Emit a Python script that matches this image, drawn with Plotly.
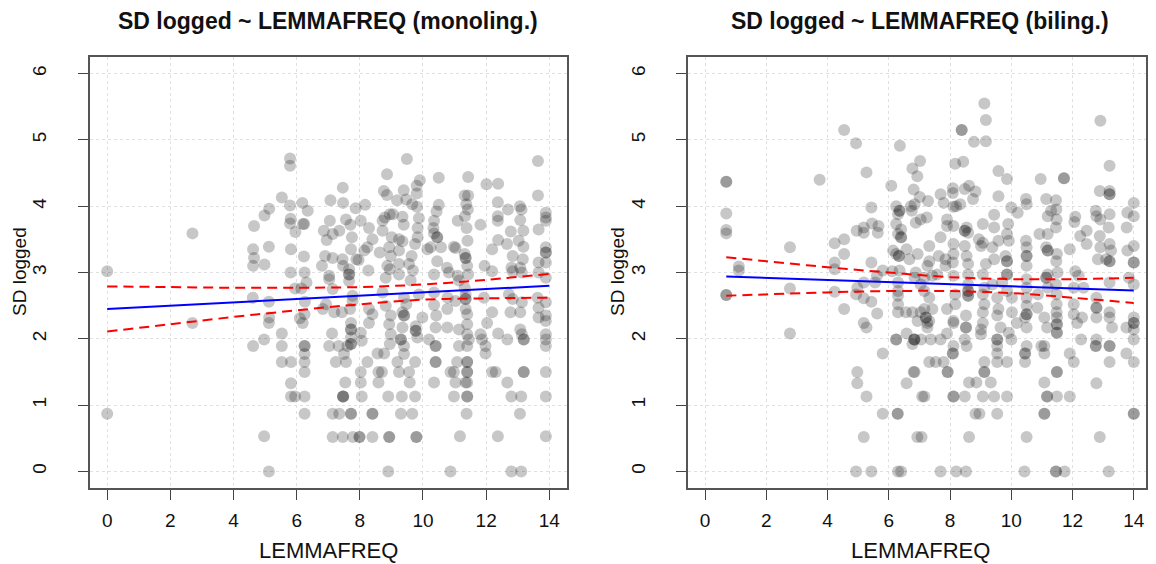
import plotly.graph_objects as go

# ---- data: (LEMMAFREQ, SD logged) ----
mono_pts = [
    (0.0, 3.02), (0.0, 0.87), (2.7, 3.59), (2.7, 2.24),
    (4.62, 3.35), (4.65, 3.22), (4.62, 3.10), (4.65, 3.70), (4.98, 3.86), (5.13, 3.96), (5.12, 3.39), (4.98, 3.12),
    (5.53, 4.13), (5.79, 4.72), (5.79, 4.61), (5.79, 4.01), (5.81, 3.81), (5.79, 3.74), (5.96, 3.61), (5.82, 3.35),
    (5.81, 3.00), (6.18, 4.05), (6.35, 3.93), (6.20, 3.73), (6.24, 3.73), (6.23, 3.24), (6.25, 3.00), (6.31, 2.85),
    (5.95, 2.76), (6.15, 2.76), (4.61, 2.62), (5.12, 2.56), (5.13, 2.32), (6.26, 2.56), (6.25, 2.37), (6.10, 2.31),
    (6.83, 2.45),
    (4.97, 0.53), (5.12, 0.0), (4.62, 1.89), (4.97, 1.99), (5.12, 2.24), (5.53, 2.08), (5.53, 1.89), (5.53, 1.65),
    (5.82, 1.65), (5.82, 1.33), (5.82, 1.13), (5.95, 1.13), (6.25, 1.13), (6.25, 0.87), (6.25, 1.50), (6.25, 1.65),
    (6.25, 1.77), (6.25, 1.89), (6.25, 1.89), (6.19, 2.24), (7.03, 1.89),
    (9.49, 4.71), (8.86, 4.48), (10.50, 4.43), (11.43, 4.44), (13.64, 4.68), (7.46, 4.28), (8.76, 4.23), (8.86, 4.17),
    (9.39, 4.24), (9.80, 4.31), (9.90, 4.39), (9.80, 4.19), (12.01, 4.33), (12.38, 4.34), (11.32, 4.16), (11.43, 4.16),
    (13.64, 4.16), (7.07, 4.09), (7.47, 4.05), (7.87, 3.97), (8.17, 4.02), (9.18, 4.09), (9.47, 4.10), (9.66, 4.03),
    (9.81, 3.99), (10.43, 3.92), (10.50, 4.02), (11.37, 4.03), (11.42, 3.95), (12.37, 4.06), (12.69, 3.95), (13.07, 4.00),
    (13.12, 3.95), (13.89, 3.90), (13.89, 3.83), (13.89, 3.78), (13.66, 3.65), (7.05, 3.78), (7.56, 3.80), (7.70, 3.72),
    (8.03, 3.78), (8.72, 3.78), (8.79, 3.83), (8.95, 3.88), (9.05, 3.88), (9.35, 3.84), (9.39, 3.72), (9.87, 3.82),
    (9.83, 3.67), (10.35, 3.78), (10.33, 3.67), (11.10, 3.78), (11.33, 3.85), (11.38, 3.67), (11.82, 3.72), (12.37, 3.85),
    (12.37, 3.78), (13.08, 3.79), (13.18, 3.63), (12.78, 3.62), (6.86, 3.63), (6.95, 3.49), (7.14, 3.58), (7.35, 3.63),
    (7.75, 3.53), (7.72, 3.35), (8.29, 3.67), (8.40, 3.50), (8.72, 3.63), (9.01, 3.53), (9.24, 3.50), (9.35, 3.47),
    (9.75, 3.43), (9.83, 3.53), (10.35, 3.59), (10.45, 3.53), (10.45, 3.53), (10.57, 3.38), (10.98, 3.39), (11.03, 3.37),
    (11.41, 3.48), (12.19, 3.35), (12.38, 3.49), (12.66, 3.43), (13.03, 3.48), (13.18, 3.39), (13.89, 3.38), (13.89, 3.30),
    (13.89, 3.30), (13.89, 3.15), (6.90, 3.25), (7.14, 3.22), (7.45, 3.20), (7.89, 3.20), (8.24, 3.38), (8.14, 3.33),
    (8.63, 3.30), (8.93, 3.38), (8.98, 3.25), (9.24, 3.33), (9.64, 3.25), (9.56, 3.13), (10.14, 3.35), (10.24, 3.38),
    (10.45, 3.17), (11.32, 3.28), (11.35, 3.22), (11.35, 3.22), (12.84, 3.25), (13.16, 3.20), (13.66, 3.15), (6.80, 3.10),
    (7.47, 3.10), (7.66, 3.05), (7.66, 2.97), (7.66, 2.97), (7.96, 3.19), (8.27, 3.03), (8.87, 3.10), (8.95, 3.05),
    (9.24, 3.13), (9.24, 2.97), (9.68, 3.03), (10.35, 2.97), (10.76, 3.07), (10.82, 3.00), (11.10, 2.95), (11.40, 3.10),
    (11.43, 2.97), (11.95, 3.10), (12.19, 3.02), (12.80, 3.07), (12.84, 3.02), (13.08, 3.07), (13.13, 3.00), (13.66, 3.00),
    (13.89, 2.92), (7.03, 2.95), (7.03, 2.90), (8.82, 2.92), (9.61, 2.88), (11.14, 2.88), (7.66, 2.87), (7.14, 2.75),
    (7.77, 2.65), (7.77, 2.57), (8.72, 2.70), (9.40, 2.62), (9.47, 2.52), (9.87, 2.67), (10.35, 2.70), (10.78, 2.62),
    (11.03, 2.57), (11.32, 2.77), (11.35, 2.67), (11.35, 2.60), (11.35, 2.60), (11.93, 2.62), (12.72, 2.67), (12.84, 2.60),
    (13.13, 2.55), (13.63, 2.62), (13.89, 2.55), (6.93, 2.52), (7.19, 2.40), (7.69, 2.45), (8.29, 2.45), (8.40, 2.37),
    (8.82, 2.50), (8.98, 2.35), (9.35, 2.40), (10.35, 2.51), (10.42, 2.35), (10.77, 2.45), (11.35, 2.45), (11.40, 2.37),
    (12.19, 2.40), (12.77, 2.40), (13.66, 2.47), (13.89, 2.35),
    (7.43, 2.40), (7.72, 2.24), (7.72, 2.14), (7.72, 2.14), (7.72, 2.02), (7.72, 1.92), (7.72, 1.92), (7.12, 2.08),
    (7.33, 1.89), (7.61, 1.89), (7.50, 1.77), (7.24, 1.65), (7.56, 1.65), (8.03, 2.09), (8.06, 1.97), (8.29, 2.24),
    (8.24, 1.65), (8.03, 1.50), (8.59, 1.50), (8.70, 1.50), (8.56, 1.78), (8.77, 1.78), (8.93, 2.22), (8.98, 2.07),
    (8.95, 1.92), (9.40, 2.35), (9.40, 2.35), (9.35, 2.17), (9.30, 1.99), (9.30, 1.99), (9.40, 1.89), (9.40, 1.77),
    (9.19, 1.65), (9.24, 1.50), (9.56, 1.50), (9.77, 2.19), (9.77, 2.12), (9.77, 2.12), (9.82, 2.02), (9.75, 1.65),
    (9.98, 2.32), (10.19, 1.99), (10.40, 2.17), (10.77, 2.17), (10.40, 1.89), (10.40, 1.89), (10.40, 1.65), (10.40, 1.65),
    (10.35, 1.34), (10.87, 1.50), (10.98, 1.50), (11.03, 1.34), (11.35, 1.34), (10.98, 1.13), (11.08, 1.65), (11.40, 1.65),
    (11.40, 1.65), (11.40, 1.50), (11.40, 1.50), (11.40, 1.13), (11.40, 1.13), (11.38, 0.87), (11.14, 2.14), (11.40, 2.22),
    (11.40, 2.07), (11.45, 1.99), (11.14, 1.89), (11.40, 1.89), (11.17, 0.53), (10.87, 0.0), (11.82, 2.07), (11.87, 1.99),
    (11.98, 1.89), (11.98, 1.78), (12.03, 2.24), (12.19, 1.50), (12.30, 1.50), (12.37, 0.53), (12.38, 2.08), (12.67, 1.99),
    (12.67, 1.34), (12.80, 1.13), (13.11, 1.13), (13.07, 0.87), (12.80, 0.0), (13.11, 0.0), (13.08, 2.14), (13.13, 2.07),
    (13.19, 1.99), (13.19, 1.99), (13.08, 2.40), (13.19, 1.50), (13.19, 1.50), (13.66, 2.32), (13.89, 2.27), (13.89, 2.07),
    (13.89, 1.99), (13.89, 1.89), (13.89, 1.50), (13.89, 1.13), (13.89, 0.53), (8.93, 0.52), (8.93, 0.52), (9.79, 0.52),
    (9.79, 0.52), (7.14, 0.52), (7.46, 0.52), (7.78, 0.52), (7.99, 0.52), (7.99, 0.52), (8.40, 0.52), (7.14, 0.87),
    (7.35, 0.87), (7.72, 0.87), (7.72, 0.87), (8.40, 0.87), (8.40, 0.87), (9.30, 0.87), (9.66, 0.87), (7.47, 1.13),
    (7.47, 1.13), (7.47, 1.13), (8.06, 1.13), (8.90, 1.13), (9.33, 1.13), (9.75, 1.13), (7.54, 1.34), (8.03, 1.34),
    (8.59, 1.34), (9.58, 1.34), (8.90, 0.0), (11.40, 1.34),
]

bil_pts = [
    (0.69, 4.37), (0.69, 4.37), (0.69, 3.89), (0.69, 3.64), (0.69, 3.59), (1.10, 3.09), (1.10, 3.03), (0.69, 2.66),
    (0.69, 2.66), (2.77, 3.38), (2.77, 2.76), (3.74, 4.40), (4.54, 5.15), (4.93, 4.95), (6.36, 4.91), (5.27, 4.51),
    (6.08, 4.31), (5.43, 3.98), (4.23, 3.44), (4.54, 3.50), (4.54, 3.28), (4.95, 3.63), (5.18, 3.68), (5.18, 3.60),
    (5.45, 3.74), (5.66, 3.70), (5.64, 3.60), (4.23, 3.15), (4.23, 3.05), (5.43, 3.15), (5.80, 3.03), (4.23, 2.71),
    (4.93, 2.67), (5.18, 2.61), (5.43, 2.56), (4.97, 2.77), (5.18, 2.85), (5.55, 2.85), (5.61, 2.95), (4.54, 2.45),
    (5.62, 2.38), (6.24, 4.00), (6.30, 3.88), (6.35, 3.93), (6.35, 3.93), (6.24, 3.73), (6.40, 3.65), (6.30, 3.58),
    (6.40, 3.53), (6.40, 3.53), (6.14, 3.33), (6.24, 3.28), (6.33, 3.25), (6.33, 3.25), (6.11, 3.02), (6.35, 3.03),
    (6.30, 2.85), (6.30, 2.72), (6.30, 2.65), (6.30, 2.52), (6.30, 2.40), (6.58, 3.35), (6.67, 3.20), (6.72, 4.00),
    (6.75, 3.93), (6.81, 4.25), (6.77, 4.57), (6.93, 4.45), (7.02, 4.68), (7.01, 4.14), (6.88, 3.75), (7.04, 3.80),
    (6.88, 3.00), (7.04, 2.82), (6.56, 2.40), (6.77, 2.40), (7.04, 2.40),
    (2.77, 2.08), (5.18, 2.24), (5.27, 2.17), (6.24, 1.99), (6.24, 1.99), (6.58, 2.08), (6.77, 1.92), (6.83, 1.99),
    (6.83, 1.99), (5.80, 1.78), (4.97, 1.50), (4.97, 1.33), (5.27, 1.13), (5.80, 0.87), (6.29, 0.87), (6.29, 0.87),
    (5.18, 0.52), (4.93, 0.0), (5.43, 0.0), (6.30, 0.0), (6.40, 0.0), (6.81, 1.50), (6.58, 1.33), (6.93, 0.52),
    (7.07, 0.52), (7.09, 1.13),
    (9.12, 5.55), (9.17, 5.30), (8.38, 5.15), (8.38, 5.15), (8.78, 4.97), (9.17, 4.98), (12.91, 5.29), (8.17, 4.64),
    (8.43, 4.67), (9.58, 4.53), (9.86, 4.41), (10.96, 4.41), (11.72, 4.42), (11.72, 4.42), (13.21, 4.61), (7.28, 4.08),
    (7.69, 4.18), (7.79, 4.05), (8.09, 4.27), (8.09, 4.20), (8.48, 4.26), (8.62, 4.31), (8.83, 4.22), (8.75, 4.11),
    (8.11, 3.99), (8.20, 4.00), (8.33, 4.03), (9.58, 4.15), (10.48, 4.11), (10.50, 4.03), (11.14, 4.11), (11.46, 4.09),
    (11.47, 3.95), (12.89, 4.23), (13.21, 4.23), (13.21, 4.18), (13.21, 4.18), (14.00, 4.05), (6.84, 4.03), (7.24, 3.83),
    (7.90, 3.80), (7.90, 3.70), (8.11, 3.70), (8.54, 3.68), (8.59, 3.60), (8.48, 3.63), (8.48, 3.63), (9.07, 3.73),
    (9.44, 3.87), (9.44, 3.68), (10.00, 3.98), (10.21, 3.90), (9.90, 3.73), (11.19, 3.85), (11.30, 3.93), (11.48, 3.80),
    (11.46, 3.68), (12.09, 3.84), (12.06, 3.76), (12.76, 3.93), (12.91, 3.80), (12.78, 3.85), (13.21, 3.88), (13.18, 3.68),
    (13.79, 3.90), (14.00, 3.85), (13.77, 3.68), (7.69, 3.53), (7.32, 3.40), (8.11, 3.43), (8.48, 3.40), (8.11, 3.28),
    (8.94, 3.50), (9.01, 3.40), (9.07, 3.45), (9.38, 3.38), (9.58, 3.48), (9.86, 3.58), (9.92, 3.48), (10.92, 3.58),
    (11.19, 3.58), (10.48, 3.48), (10.50, 3.38), (10.50, 3.25), (10.50, 3.25), (11.14, 3.38), (11.19, 3.33), (11.19, 3.33),
    (11.49, 3.28), (11.47, 3.17), (11.91, 3.35), (12.25, 3.55), (12.46, 3.43), (12.46, 3.63), (12.89, 3.55), (12.91, 3.38),
    (13.21, 3.43), (13.26, 3.33), (13.21, 3.17), (13.21, 3.17), (13.79, 3.33), (14.00, 3.40), (14.00, 3.15), (14.00, 3.15),
    (12.83, 3.20), (13.10, 3.20), (6.94, 3.28), (7.32, 3.17), (7.26, 3.10), (7.63, 3.25), (7.85, 3.20), (7.85, 3.10),
    (8.09, 3.15), (8.54, 3.25), (8.59, 3.13), (9.17, 3.13), (9.44, 3.20), (9.81, 3.25), (9.86, 3.17), (9.86, 3.17),
    (9.86, 2.97), (9.86, 2.97), (10.50, 3.10), (11.19, 2.97), (11.14, 2.92), (11.14, 2.92), (11.51, 3.00), (12.09, 3.02),
    (12.20, 2.95), (6.84, 2.92), (7.16, 2.92), (7.42, 2.95), (7.58, 2.97), (8.11, 2.95), (8.59, 2.97), (9.07, 2.97),
    (8.59, 2.82), (8.59, 2.72), (8.59, 2.72), (8.59, 2.65), (8.59, 2.65), (9.12, 2.77), (9.38, 2.82), (9.70, 2.85),
    (9.86, 2.72), (10.50, 2.90), (10.50, 2.77), (10.50, 2.62), (10.50, 2.50), (10.50, 2.37), (10.50, 2.37), (11.19, 2.77),
    (11.46, 2.82), (11.48, 2.67), (11.48, 2.52), (11.48, 2.40), (12.04, 2.77), (12.04, 2.52), (12.36, 2.77), (12.78, 2.62),
    (12.78, 2.47), (12.78, 2.47), (13.21, 2.85), (13.21, 2.40), (13.84, 2.92), (14.00, 2.82), (14.00, 2.32), (7.16, 2.72),
    (7.32, 2.62), (7.16, 2.45), (7.42, 2.45), (7.90, 2.45), (8.17, 2.52), (8.17, 2.67), (9.07, 2.67), (9.12, 2.52),
    (9.07, 2.40), (9.54, 2.62), (9.58, 2.45), (10.02, 2.62), (10.02, 2.40), (10.87, 2.67), (10.85, 2.47), (12.78, 2.32),
    (13.21, 2.32), (6.94, 2.27), (7.32, 2.27), (8.11, 2.27),
    (7.26, 2.24), (7.21, 2.32), (7.21, 2.32), (7.26, 2.17), (8.11, 2.24), (8.52, 2.35), (8.52, 2.17), (8.52, 2.17),
    (9.07, 2.24), (9.01, 2.14), (9.01, 2.07), (9.54, 2.35), (9.65, 2.17), (9.54, 1.99), (9.54, 1.99), (9.92, 2.09),
    (10.00, 1.99), (9.54, 1.89), (9.54, 1.78), (9.54, 1.65), (9.86, 1.65), (9.12, 1.65), (9.12, 1.50), (9.12, 1.50),
    (9.33, 1.34), (8.86, 1.34), (8.62, 1.34), (9.07, 1.13), (9.44, 1.13), (9.86, 1.13), (8.48, 1.13), (8.11, 1.13),
    (8.11, 1.13), (7.16, 1.13), (8.83, 0.87), (8.96, 0.87), (9.54, 0.87), (8.62, 0.52), (7.69, 0.0), (8.20, 0.0),
    (8.52, 0.0), (7.32, 1.65), (7.53, 1.65), (7.79, 1.65), (6.84, 1.50), (7.92, 1.50), (7.92, 1.50), (8.09, 1.78),
    (8.09, 1.78), (8.11, 1.89), (8.48, 1.99), (8.54, 1.89), (6.84, 1.99), (7.05, 1.99), (7.37, 1.99), (7.69, 1.99),
    (7.90, 2.08), (10.45, 2.32), (10.50, 2.17), (10.18, 2.24), (10.50, 1.89), (10.45, 1.78), (10.45, 1.78), (10.45, 1.65),
    (11.08, 2.32), (11.17, 2.17), (11.49, 2.32), (11.49, 2.22), (11.49, 2.22), (11.49, 2.09), (11.49, 2.09), (10.98, 1.89),
    (11.08, 1.89), (11.08, 1.78), (11.49, 1.50), (11.49, 1.50), (11.08, 1.34), (11.17, 1.13), (11.17, 1.13), (11.49, 1.13),
    (11.91, 1.13), (11.08, 0.87), (11.08, 0.87), (10.50, 0.52), (10.43, 0.0), (11.46, 0.0), (11.46, 0.0), (11.74, 0.0),
    (12.04, 2.37), (12.15, 2.24), (12.31, 2.32), (11.91, 1.78), (12.04, 1.65), (12.28, 1.99), (12.78, 1.99), (12.76, 1.89),
    (12.76, 1.89), (13.21, 1.89), (13.21, 1.89), (13.29, 2.17), (13.21, 1.65), (12.78, 1.33), (12.89, 0.52), (13.18, 0.0),
    (13.76, 1.78), (14.00, 1.65), (13.76, 2.17), (14.00, 2.24), (14.00, 2.24), (14.00, 2.14), (14.00, 1.99), (14.00, 0.87),
    (14.00, 0.87),
]

# regression line and its confidence band
mono_line_x = [0, 2, 4, 6, 8, 10, 12, 14]
mono_fit = [2.45, 2.50, 2.55, 2.60, 2.65, 2.70, 2.75, 2.80]
mono_upper = [2.79, 2.78, 2.77, 2.77, 2.78, 2.82, 2.89, 2.98]
mono_lower = [2.11, 2.22, 2.33, 2.43, 2.52, 2.59, 2.61, 2.62]

bil_line_x = [0.69, 2, 4, 6, 8, 10, 12, 14]
bil_fit = [2.94, 2.92, 2.89, 2.86, 2.82, 2.79, 2.76, 2.73]
bil_upper = [3.23, 3.17, 3.08, 3.00, 2.93, 2.90, 2.90, 2.92]
bil_lower = [2.65, 2.67, 2.70, 2.72, 2.72, 2.69, 2.62, 2.54]

titles = ["SD logged ~ LEMMAFREQ (monoling.)", "SD logged ~ LEMMAFREQ (biling.)"]
x_ticks = [0, 2, 4, 6, 8, 10, 12, 14]
y_ticks = [0, 1, 2, 3, 4, 5, 6]

# the page body keeps an 8px margin, so positions below are given in window pixels
OFF = 8
W, H = 1156 - OFF, 564 - OFF
FONT = "Liberation Sans, Arial, Helvetica, sans-serif"


def px(x):
    return (x - OFF) / W


def py(y):
    return 1 - (y - OFF) / H


fig = go.Figure()


def add_panel(pts, line_x, fit, upper, lower, xa, ya):
    xs = [p[0] for p in pts]
    ys = [p[1] for p in pts]
    fig.add_trace(go.Scatter(x=xs, y=ys, mode="markers", xaxis=xa, yaxis=ya,
                             marker=dict(size=12, color="rgba(0,0,0,0.22)", line=dict(width=0)),
                             hoverinfo="x+y", showlegend=False))
    fig.add_trace(go.Scatter(x=line_x, y=fit, mode="lines", xaxis=xa, yaxis=ya,
                             line=dict(color="#0000ff", width=2), showlegend=False))
    for band in (upper, lower):
        fig.add_trace(go.Scatter(x=line_x, y=band, mode="lines", xaxis=xa, yaxis=ya,
                                 line=dict(color="#ff0000", width=2, dash="10px,6px", shape="spline"),
                                 showlegend=False))


add_panel(mono_pts, mono_line_x, mono_fit, mono_upper, mono_lower, "x", "y")
add_panel(bil_pts, bil_line_x, bil_fit, bil_upper, bil_lower, "x2", "y2")

axis_common = dict(ticks="outside", ticklen=10, tickwidth=1, tickcolor="#444",
                   showline=True, linecolor="#555", linewidth=1.5, mirror=True,
                   showgrid=True, gridcolor="#e0e0e0", griddash="dot", gridwidth=1, zeroline=False,
                   tickfont=dict(family=FONT, size=19, color="#111"))
xcommon = dict(tickvals=x_ticks, ticklabelstandoff=4, **axis_common)
ycommon = dict(tickvals=y_ticks, range=[-0.25, 6.25], tickangle=-90, ticklabelstandoff=24, **axis_common)

y_dom = [py(488), py(57)]
fig.update_layout(
    width=W, height=H, margin=dict(l=0, r=0, t=0, b=0),
    paper_bgcolor="white", plot_bgcolor="white",
    xaxis=dict(domain=[px(89.5), px(567)], range=[-0.56, 14.56], anchor="y", **xcommon),
    yaxis=dict(domain=y_dom, anchor="x", **ycommon),
    xaxis2=dict(domain=[px(688), px(1146)], range=[-0.56, 14.4], anchor="y2", **xcommon),
    yaxis2=dict(domain=y_dom, anchor="x2", **ycommon),
)

# titles and axis labels
for cx, title, ylab_x in [(328, titles[0], 20), (920, titles[1], 618)]:
    fig.add_annotation(text="<b>%s</b>" % title, x=px(cx), y=py(21), xref="paper", yref="paper",
                       xanchor="center", yanchor="middle", showarrow=False,
                       font=dict(family=FONT, size=23, color="#111"))
    fig.add_annotation(text="LEMMAFREQ", x=px(cx), y=py(550), xref="paper", yref="paper",
                       xanchor="center", yanchor="middle", showarrow=False,
                       font=dict(family=FONT, size=22, color="#111"))
    fig.add_annotation(text="SD logged", x=px(ylab_x), y=py(272), xref="paper", yref="paper",
                       xanchor="center", yanchor="middle", showarrow=False, textangle=-90,
                       font=dict(family=FONT, size=19, color="#111"))

fig.write_html("out.html")
